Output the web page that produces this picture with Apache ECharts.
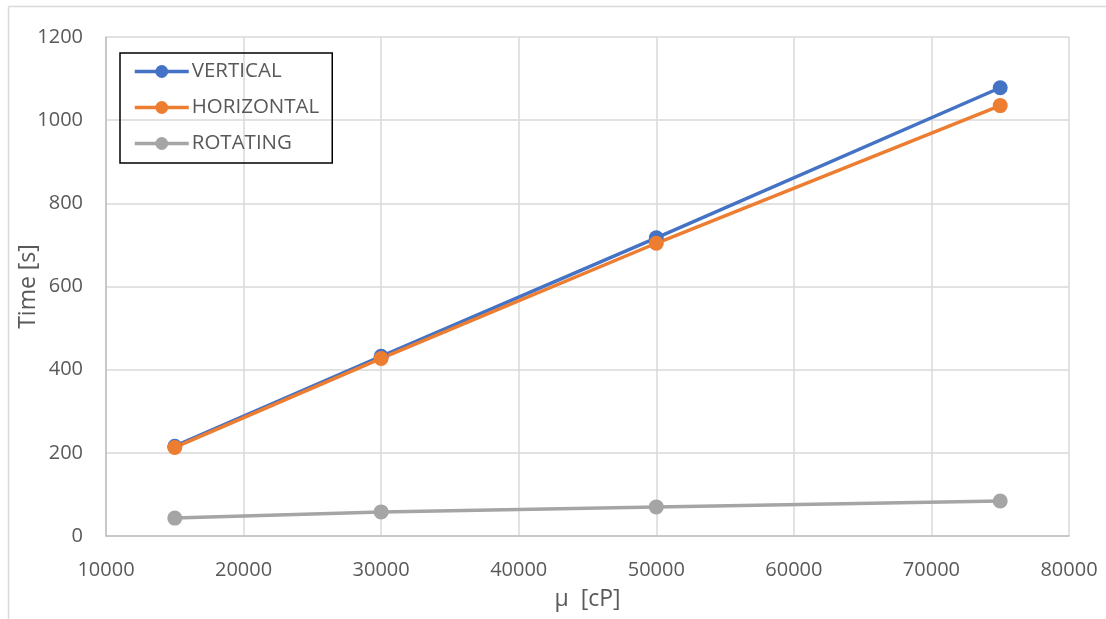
<!DOCTYPE html>
<html><head><meta charset="utf-8">
<script src="https://cdn.jsdelivr.net/npm/echarts@6/dist/echarts.min.js"></script>
<style>html,body{margin:0;padding:0;background:#fff}#c{width:1106px;height:619px}</style>
</head><body><div id="c"></div>
<script>
const viscosity = [15000, 30000, 50000, 75000];
const vertical = [216, 432, 717, 1078];
const horizontal = [213, 427, 704, 1035];
const rotating = [43, 58, 70, 84];
const seriesNames = ['VERTICAL', 'HORIZONTAL', 'ROTATING'];
const colors = ['#4472C4', '#ED7D31', '#A5A5A5'];

const pairs = arr => viscosity.map((x, i) => [x, arr[i]]);
const font = '"Open Sans", "Noto Sans", sans-serif';
const chart = echarts.init(document.getElementById('c'));
chart.setOption({
  animation: false,
  graphic: [
    {type:'line', shape:{x1:8.5,y1:6.5,x2:1106,y2:6.5}, style:{stroke:'#d9d9d9', lineWidth:1.5}},
    {type:'line', shape:{x1:8.5,y1:6.5,x2:8.5,y2:619}, style:{stroke:'#d9d9d9', lineWidth:1.5}}
  ],
  grid: {left: 106, right: 1106 - 1069, top: 37, bottom: 619 - 536, containLabel: false, outerBoundsMode: 'none'},
  legend: {
    orient: 'vertical', left: 120, top: 53,
    padding: [8, 13, 9, 13], itemGap: 15,
    itemWidth: 54, itemHeight: 16,
    borderColor: '#000', borderWidth: 1.5,
    textStyle: {fontFamily: font, fontSize: 20.5, color: '#595959', padding: [0,0,0,-2]},
    data: seriesNames.map((n, i) => ({name: n, lineStyle: {width: 3.5, color: colors[i]}, itemStyle: {color: colors[i]}}))
  },
  xAxis: {
    type: 'value', min: 10000, max: 80000, interval: 10000,
    name: 'μ  [cP]', nameLocation: 'middle', nameGap: 52, nameMoveOverlap: false,
    nameTextStyle: {fontFamily: font, fontSize: 23, color: '#595959'},
    axisLine: {lineStyle: {color: '#bfbfbf', width: 1.5}},
    axisTick: {show: false},
    axisLabel: {fontFamily: font, fontSize: 20, color: '#595959', margin: 24, formatter: v => String(v)},
    splitLine: {lineStyle: {color: '#d9d9d9', width: 1.5}}
  },
  yAxis: {
    type: 'value', min: 0, max: 1200, interval: 200,
    name: 'Time [s]', nameLocation: 'middle', nameGap: 66, nameMoveOverlap: false,
    nameTextStyle: {fontFamily: font, fontSize: 23, color: '#595959'},
    axisLine: {show: true, lineStyle: {color: '#bfbfbf', width: 1.5}},
    axisTick: {show: false},
    axisLabel: {fontFamily: font, fontSize: 20, color: '#595959', margin: 23, formatter: v => String(v)},
    splitLine: {lineStyle: {color: '#d9d9d9', width: 1.5}}
  },
  series: [vertical, horizontal, rotating].map((d, i) => ({
    name: seriesNames[i], type: 'line', data: pairs(d),
    symbol: 'circle', symbolSize: 15, showSymbol: true,
    lineStyle: {color: colors[i], width: 3.5},
    itemStyle: {color: colors[i]}
  }))
});
</script></body></html>
